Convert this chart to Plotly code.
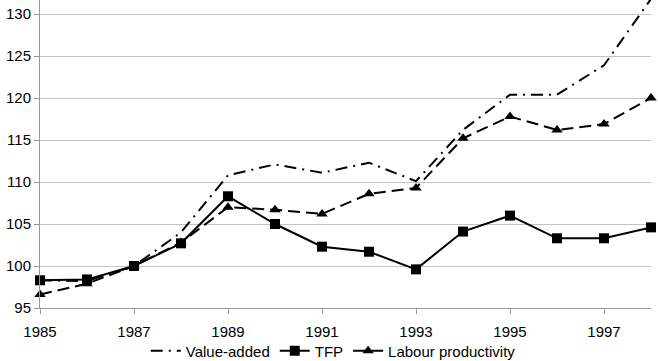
import plotly.graph_objects as go

years = list(range(1985, 1999))
value_added = [98.3, 98.2, 100.0, 104.0, 110.8, 112.1, 111.1, 112.3, 110.1, 116.2, 120.4, 120.4, 123.9, 131.8]
tfp = [98.3, 98.4, 100.0, 102.7, 108.3, 105.0, 102.3, 101.7, 99.6, 104.1, 106.0, 103.3, 103.3, 104.6]
labour_prod = [96.6, 97.9, 100.0, 102.8, 107.0, 106.7, 106.2, 108.6, 109.3, 115.2, 117.8, 116.2, 116.9, 120.0]
x_ticks = [1985, 1987, 1989, 1991, 1993, 1995, 1997]
y_ticks = [95, 100, 105, 110, 115, 120, 125, 130]

fig = go.Figure()
fig.add_trace(go.Scatter(x=years, y=value_added, name="Value-added", mode="lines",
                         line=dict(color="black", width=2, dash="12px,6px,2px,6px"),
                         cliponaxis=True))
fig.add_trace(go.Scatter(x=years, y=tfp, name="TFP", mode="lines+markers",
                         line=dict(color="black", width=2),
                         marker=dict(symbol="square", size=10, color="black"),
                         cliponaxis=False))
fig.add_trace(go.Scatter(x=years, y=labour_prod, name="Labour productivity", mode="lines+markers",
                         line=dict(color="black", width=2, dash="12px,6px"),
                         marker=dict(symbol="triangle-up", size=10, color="black"),
                         cliponaxis=False))

H = 361
fig.update_layout(
    width=658, height=H,
    margin=dict(l=40, r=7, t=0, b=0, autoexpand=False),
    paper_bgcolor="white", plot_bgcolor="white",
    font=dict(family="Liberation Sans, Arial, sans-serif", size=15, color="black"),
    legend=dict(orientation="h", x=0.48, xanchor="center", y=-0.018, yanchor="bottom",
                font=dict(size=15), itemwidth=30, tracegroupgap=0,
                bgcolor="rgba(0,0,0,0)"),
    showlegend=True,
)
fig.update_xaxes(range=[1985, 1998], tickvals=x_ticks, ticktext=[str(t) for t in x_ticks],
                 showgrid=False, showline=True, linecolor="#999999", linewidth=1,
                 ticks="outside", ticklen=5, tickcolor="#999999", zeroline=False,
                 ticklabelstandoff=5)
fig.update_yaxes(range=[95, 131.67], domain=[53 / H, 1], tickvals=y_ticks,
                 ticktext=[str(t) for t in y_ticks],
                 showgrid=True, gridcolor="#c4c4c4", gridwidth=1,
                 showline=True, linecolor="#999999", linewidth=1,
                 ticks="outside", ticklen=5, tickcolor="#999999", zeroline=False)

fig.write_html("out.html")
